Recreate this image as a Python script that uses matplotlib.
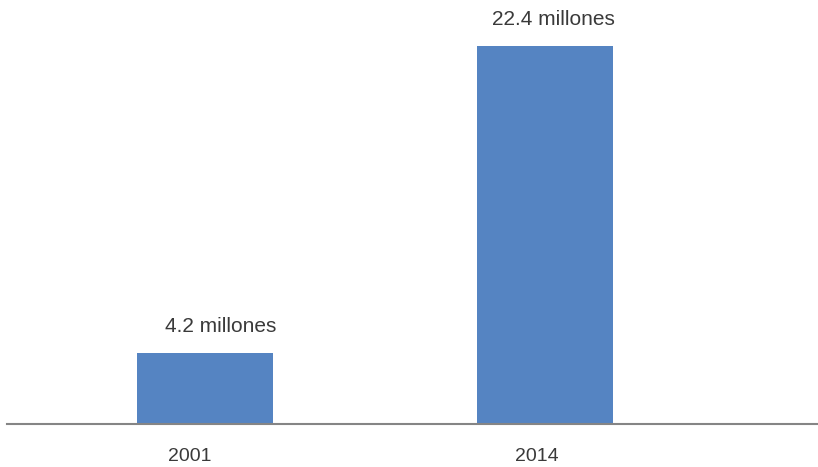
import matplotlib
matplotlib.use("Agg")
import matplotlib.pyplot as plt
import matplotlib.transforms as mtransforms

# Data
years = ["2001", "2014"]
values = [4.2, 22.4]
value_labels = ["4.2 millones", "22.4 millones"]

BAR_COLOR = "#5584c2"
TEXT_COLOR = "#3a3a3a"
AXIS_COLOR = "#858585"

W, H, DPI = 818, 467, 100
fig = plt.figure(figsize=(W / DPI, H / DPI), dpi=DPI)
plt.rcParams["font.family"] = ["Liberation Sans", "DejaVu Sans"]

# Axes spans from the baseline to the top of the canvas
left_px, right_px, base_px = 7, 818, 424
ax = fig.add_axes([left_px / W, (H - base_px) / H, (right_px - left_px) / W, base_px / H])

x = list(range(len(years)))
ax.bar(x, values, width=0.4, color=BAR_COLOR, zorder=2)

ax.set_xlim(-0.5824, 1.803)
ax.set_ylim(0, 25.125)

for s in ("top", "right", "left"):
    ax.spines[s].set_visible(False)
ax.spines["bottom"].set_color(AXIS_COLOR)
ax.spines["bottom"].set_linewidth(1.5)
ax.set_yticks([])
ax.set_xticks(x)
ax.set_xticklabels(years, fontsize=14, color=TEXT_COLOR)
ax.tick_params(axis="x", length=0, pad=17)

# small horizontal nudges for the year labels (in pixels)
tick_shift = [-15, -8]
for lbl, dx in zip(ax.get_xticklabels(), tick_shift):
    lbl.set_transform(lbl.get_transform() + mtransforms.ScaledTranslation(dx / DPI, 0, fig.dpi_scale_trans))

# value labels above each bar
label_shift = [16, 8.5]
for xi, v, txt, dx in zip(x, values, value_labels, label_shift):
    ax.annotate(txt, xy=(xi, v), xytext=(dx * 72 / DPI, 21 * 72 / DPI),
                textcoords="offset points", ha="center", va="baseline",
                fontsize=15, color=TEXT_COLOR)

fig.savefig("out.png", dpi=DPI)
